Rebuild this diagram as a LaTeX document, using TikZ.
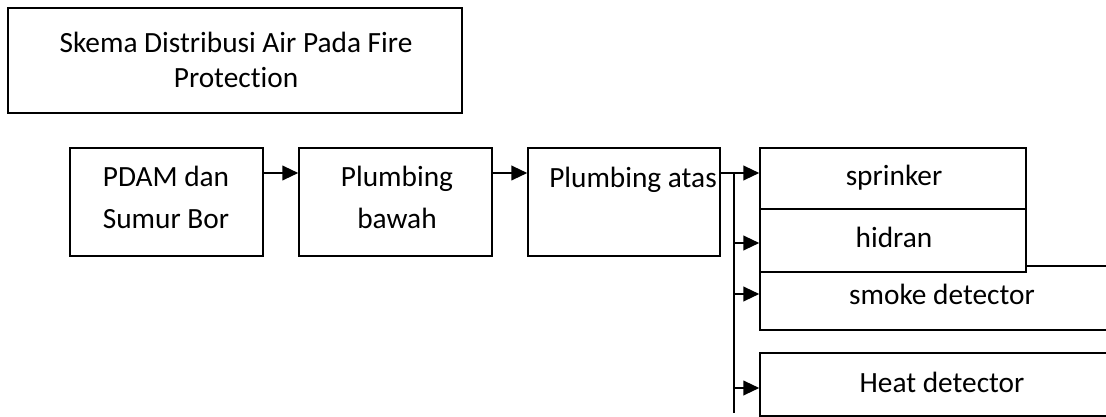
\documentclass[tikz,border=0pt]{standalone}
\usepackage{fontspec}
\setmainfont{Carlito}[Ligatures=NoCommon]
\usetikzlibrary{arrows.meta}
\begin{document}
\begin{tikzpicture}[x=0.75pt,y=-0.75pt,
  box/.style={draw=black,line width=1.1pt,fill=white,rectangle,inner sep=0pt},
  txt/.style={inner sep=0pt,anchor=base,align=center,font=\fontsize{22}{31}\selectfont},
  ttl/.style={inner sep=0pt,anchor=base,align=center,font=\fontsize{22}{26.5}\selectfont},
  flow/.style={line width=1.5pt,-{Triangle[length=12pt,width=11pt]}},
  trunk/.style={line width=1.5pt}]
\useasboundingbox (0,0) rectangle (1106,417);

% title (base anchor of a two-line node sits on its last line)
\node[box,minimum width=454*0.75pt,minimum height=105*0.75pt] (title) at (235,60.5) {};
\node[ttl] (titletext) at (236,88) {Skema Distribusi Air Pada Fire\\Protection};

% main chain
\node[box,minimum width=193*0.75pt,minimum height=108*0.75pt] (pdam) at (166.5,202) {};
\node[txt] (pdamtext) at (166,228) {PDAM dan\\Sumur Bor};
\node[box,minimum width=193*0.75pt,minimum height=108*0.75pt] (bawah) at (395.5,202) {};
\node[txt] (bawahtext) at (397,228) {Plumbing\\bawah};
\node[box,minimum width=192*0.75pt,minimum height=108*0.75pt] (atas) at (624,202) {};
\node[txt] (atastext) at (633,187) {Plumbing atas};

% outlets
\node[box,minimum width=364*0.75pt,minimum height=64*0.75pt] (smoke) at (942,298) {};
\node[txt] (smoketext) at (942,304) {smoke detector};
\node[box,minimum width=266*0.75pt,minimum height=61*0.75pt] (sprinker) at (893,178.5) {};
\node[txt] (sprinkertext) at (894,185.5) {sprinker};
\node[box,minimum width=266*0.75pt,minimum height=63*0.75pt] (hidran) at (893,240.5) {};
\node[txt] (hidrantext) at (894,247) {hidran};
\node[box,minimum width=364*0.75pt,minimum height=63*0.75pt] (heat) at (942,384.5) {};
\node[txt] (heattext) at (942,392) {Heat detector};

% connectors
\coordinate (split) at (734,173);
\coordinate (trunkend) at (734,413);
\draw[flow] (pdam.east |- 0,173) -- (bawah.west |- 0,173);
\draw[flow] (bawah.east |- 0,173) -- (atas.west |- 0,173);
\draw[flow] (atas.east |- 0,173) -- (sprinker.west |- 0,173);
\draw[trunk] (split) -- (trunkend);
\draw[flow] (split |- 0,243) -- (hidran.west |- 0,243);
\draw[flow] (split |- 0,294) -- (smoke.west |- 0,294);
\draw[flow] (split |- 0,388) -- (heat.west |- 0,388);
\end{tikzpicture}
\end{document}
